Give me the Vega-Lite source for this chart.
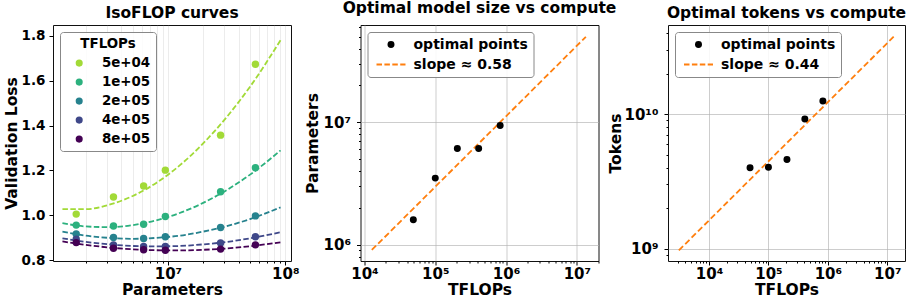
{
  "$schema": "https://vega.github.io/schema/vega-lite/v6.json",
  "padding": {"left": 3, "top": 0, "right": 5, "bottom": 0},
  "bounds": "flush",
  "spacing": 69.5,
  "config": {
    "font": "DejaVu Sans",
    "view": {"stroke": "#111", "strokeWidth": 1},
    "axis": {
      "labelFont": "DejaVu Sans", "labelFontWeight": "bold", "labelFontSize": 15, "labelColor": "black",
      "titleFont": "DejaVu Sans", "titleFontWeight": "bold", "titleFontSize": 15.5, "titleColor": "black",
      "domain": false, "tickColor": "black", "tickWidth": 1,
      "labelOverlap": false, "labelBound": false, "labelFlush": false
    },
    "axisX": {"minExtent": 18, "maxExtent": 18, "titlePadding": 3, "labelPadding": 1},
    "title": {"font": "DejaVu Sans", "fontWeight": "bold", "fontSize": 15.5, "color": "black", "offset": 0, "baseline": "alphabetic", "anchor": "middle", "frame": "group"},
    "legend": {"labelFont": "DejaVu Sans", "titleFont": "DejaVu Sans", "labelColor": "black", "titleColor": "black", "labelFontWeight": "bold", "titleFontWeight": "bold"}
  },
  "datasets": {
    "curves": [
      {"TFLOPs": "5e+04", "N": 1259000, "loss": 1.027},
      {"TFLOPs": "5e+04", "N": 1995000, "loss": 1.027},
      {"TFLOPs": "5e+04", "N": 3162000, "loss": 1.047},
      {"TFLOPs": "5e+04", "N": 5012000, "loss": 1.086},
      {"TFLOPs": "5e+04", "N": 7943000, "loss": 1.144},
      {"TFLOPs": "5e+04", "N": 12590000, "loss": 1.222},
      {"TFLOPs": "5e+04", "N": 19950000, "loss": 1.320},
      {"TFLOPs": "5e+04", "N": 31620000, "loss": 1.437},
      {"TFLOPs": "5e+04", "N": 50120000, "loss": 1.573},
      {"TFLOPs": "5e+04", "N": 91200000, "loss": 1.780},
      {"TFLOPs": "1e+05", "N": 1259000, "loss": 0.965},
      {"TFLOPs": "1e+05", "N": 1995000, "loss": 0.950},
      {"TFLOPs": "1e+05", "N": 3162000, "loss": 0.947},
      {"TFLOPs": "1e+05", "N": 5012000, "loss": 0.956},
      {"TFLOPs": "1e+05", "N": 7943000, "loss": 0.977},
      {"TFLOPs": "1e+05", "N": 12590000, "loss": 1.010},
      {"TFLOPs": "1e+05", "N": 19950000, "loss": 1.055},
      {"TFLOPs": "1e+05", "N": 31620000, "loss": 1.112},
      {"TFLOPs": "1e+05", "N": 50120000, "loss": 1.181},
      {"TFLOPs": "1e+05", "N": 91200000, "loss": 1.289},
      {"TFLOPs": "2e+05", "N": 1259000, "loss": 0.927},
      {"TFLOPs": "2e+05", "N": 1995000, "loss": 0.909},
      {"TFLOPs": "2e+05", "N": 3162000, "loss": 0.899},
      {"TFLOPs": "2e+05", "N": 5012000, "loss": 0.895},
      {"TFLOPs": "2e+05", "N": 7943000, "loss": 0.899},
      {"TFLOPs": "2e+05", "N": 12590000, "loss": 0.909},
      {"TFLOPs": "2e+05", "N": 19950000, "loss": 0.927},
      {"TFLOPs": "2e+05", "N": 31620000, "loss": 0.951},
      {"TFLOPs": "2e+05", "N": 50120000, "loss": 0.983},
      {"TFLOPs": "2e+05", "N": 91200000, "loss": 1.035},
      {"TFLOPs": "4e+05", "N": 1259000, "loss": 0.897},
      {"TFLOPs": "4e+05", "N": 1995000, "loss": 0.881},
      {"TFLOPs": "4e+05", "N": 3162000, "loss": 0.870},
      {"TFLOPs": "4e+05", "N": 5012000, "loss": 0.863},
      {"TFLOPs": "4e+05", "N": 7943000, "loss": 0.861},
      {"TFLOPs": "4e+05", "N": 12590000, "loss": 0.863},
      {"TFLOPs": "4e+05", "N": 19950000, "loss": 0.870},
      {"TFLOPs": "4e+05", "N": 31620000, "loss": 0.881},
      {"TFLOPs": "4e+05", "N": 50120000, "loss": 0.897},
      {"TFLOPs": "4e+05", "N": 91200000, "loss": 0.924},
      {"TFLOPs": "8e+05", "N": 1259000, "loss": 0.883},
      {"TFLOPs": "8e+05", "N": 1995000, "loss": 0.868},
      {"TFLOPs": "8e+05", "N": 3162000, "loss": 0.856},
      {"TFLOPs": "8e+05", "N": 5012000, "loss": 0.848},
      {"TFLOPs": "8e+05", "N": 7943000, "loss": 0.844},
      {"TFLOPs": "8e+05", "N": 12590000, "loss": 0.843},
      {"TFLOPs": "8e+05", "N": 19950000, "loss": 0.846},
      {"TFLOPs": "8e+05", "N": 31620000, "loss": 0.852},
      {"TFLOPs": "8e+05", "N": 50120000, "loss": 0.862},
      {"TFLOPs": "8e+05", "N": 91200000, "loss": 0.879}
    ],
    "pts": [
      {"TFLOPs": "5e+04", "N": 1650000, "loss": 1.005},
      {"TFLOPs": "5e+04", "N": 3430000, "loss": 1.081},
      {"TFLOPs": "5e+04", "N": 6200000, "loss": 1.130},
      {"TFLOPs": "5e+04", "N": 9500000, "loss": 1.201},
      {"TFLOPs": "5e+04", "N": 28100000, "loss": 1.357},
      {"TFLOPs": "5e+04", "N": 55700000, "loss": 1.673},
      {"TFLOPs": "1e+05", "N": 1650000, "loss": 0.956},
      {"TFLOPs": "1e+05", "N": 3430000, "loss": 0.952},
      {"TFLOPs": "1e+05", "N": 6200000, "loss": 0.960},
      {"TFLOPs": "1e+05", "N": 9500000, "loss": 0.994},
      {"TFLOPs": "1e+05", "N": 28100000, "loss": 1.105},
      {"TFLOPs": "1e+05", "N": 55700000, "loss": 1.212},
      {"TFLOPs": "2e+05", "N": 1650000, "loss": 0.916},
      {"TFLOPs": "2e+05", "N": 3430000, "loss": 0.901},
      {"TFLOPs": "2e+05", "N": 6200000, "loss": 0.896},
      {"TFLOPs": "2e+05", "N": 9500000, "loss": 0.904},
      {"TFLOPs": "2e+05", "N": 28100000, "loss": 0.945},
      {"TFLOPs": "2e+05", "N": 55700000, "loss": 0.997},
      {"TFLOPs": "4e+05", "N": 1650000, "loss": 0.893},
      {"TFLOPs": "4e+05", "N": 3430000, "loss": 0.868},
      {"TFLOPs": "4e+05", "N": 6200000, "loss": 0.861},
      {"TFLOPs": "4e+05", "N": 9500000, "loss": 0.861},
      {"TFLOPs": "4e+05", "N": 28100000, "loss": 0.876},
      {"TFLOPs": "4e+05", "N": 55700000, "loss": 0.904},
      {"TFLOPs": "8e+05", "N": 1650000, "loss": 0.878},
      {"TFLOPs": "8e+05", "N": 3430000, "loss": 0.853},
      {"TFLOPs": "8e+05", "N": 6200000, "loss": 0.846},
      {"TFLOPs": "8e+05", "N": 9500000, "loss": 0.844},
      {"TFLOPs": "8e+05", "N": 28100000, "loss": 0.849},
      {"TFLOPs": "8e+05", "N": 55700000, "loss": 0.868}
    ],
    "opt": [
      {"series": "optimal points", "C": 49000, "N": 1600000, "D": 4000000000},
      {"series": "optimal points", "C": 100000, "N": 3500000, "D": 4030000000},
      {"series": "optimal points", "C": 205000, "N": 6100000, "D": 4600000000},
      {"series": "optimal points", "C": 410000, "N": 6100000, "D": 9200000000},
      {"series": "optimal points", "C": 825000, "N": 9400000, "D": 12500000000}
    ],
    "fitN": [
      {"C": 12700, "N": 906000},
      {"C": 13400000, "N": 50000000}
    ],
    "fitD": [
      {"C": 3100, "D": 970000000},
      {"C": 13100000, "D": 38000000000}
    ]
  },
  "resolve": {"scale": {"color": "independent", "stroke": "independent", "shape": "independent", "x": "independent", "y": "independent"}, "legend": {"color": "independent", "shape": "independent"}},
  "hconcat": [
    {
      "width": 238, "height": 236,
      "title": {"text": "IsoFLOP curves"},
      "encoding": {
        "x": {"field": "N", "type": "quantitative",
          "scale": {"type": "log", "domain": [1046000, 112000000], "nice": false},
          "axis": {"title": "Parameters",
            "values": [2000000, 3000000, 4000000, 5000000, 6000000, 7000000, 8000000, 9000000, 10000000, 20000000, 30000000, 40000000, 50000000, 60000000, 70000000, 80000000, 90000000, 100000000],
            "labelExpr": "abs(log(datum.value)/LN10 - round(log(datum.value)/LN10)) < 0.001 ? '10' + (round(log(datum.value)/LN10) == 10 ? '¹⁰' : substring('⁰¹²³⁴⁵⁶⁷⁸⁹', round(log(datum.value)/LN10), round(log(datum.value)/LN10) + 1)) : ''",
            "tickSize": {"condition": {"test": "abs(log(datum.value)/LN10 - round(log(datum.value)/LN10)) < 0.001", "value": 4}, "value": 2},
            "grid": true, "gridColor": "#b0b0b0", "gridOpacity": 0.3, "gridWidth": 0.8}},
        "y": {"field": "loss", "type": "quantitative",
          "scale": {"domain": [0.796, 1.848], "nice": false, "zero": false},
          "axis": {"title": "Validation Loss", "values": [0.8, 1.0, 1.2, 1.4, 1.6, 1.8], "format": ".1f",
            "grid": false, "tickSize": 4, "labelPadding": 4, "labelFontSize": 13.5,
            "minExtent": 32, "maxExtent": 32, "titlePadding": 2}}
      },
      "layer": [
        {
          "data": {"name": "curves"},
          "mark": {"type": "line", "strokeDash": [5.5, 2.4], "strokeWidth": 1.8, "interpolate": "monotone"},
          "encoding": {
            "stroke": {"field": "TFLOPs", "type": "nominal",
              "scale": {"domain": ["8e+05", "4e+05", "2e+05", "1e+05", "5e+04"], "range": ["#440154", "#3f4889", "#26828e", "#2cb17e", "#a2da37"]},
              "legend": null}
          }
        },
        {
          "data": {"name": "pts"},
          "mark": {"type": "point", "filled": true, "size": 55, "opacity": 1},
          "encoding": {
            "color": {"field": "TFLOPs", "type": "nominal",
              "scale": {"domain": ["5e+04", "1e+05", "2e+05", "4e+05", "8e+05"], "range": ["#a2da37", "#2cb17e", "#26828e", "#3f4889", "#440154"]},
              "legend": {"title": "TFLOPs", "orient": "top-left", "offset": 7, "padding": 5,
                "fillColor": "rgba(255,255,255,0.85)", "strokeColor": "#888888", "cornerRadius": 3,
                "titleFontSize": 13.4, "titleAnchor": "middle", "titleAlign": "center", "titlePadding": 6,
                "labelFontSize": 13.4, "symbolSize": 50, "symbolType": "circle", "symbolOffset": 7.5,
                "labelOffset": 16, "rowPadding": 4, "symbolStrokeWidth": 0}}
          }
        }
      ]
    },
    {
      "width": 238, "height": 236,
      "title": {"text": "Optimal model size vs compute"},
      "encoding": {
        "x": {"field": "C", "type": "quantitative",
          "scale": {"type": "log", "domain": [8790, 20200000], "nice": false},
          "axis": {"title": "TFLOPs",
            "values": [10000, 20000, 30000, 40000, 50000, 60000, 70000, 80000, 90000, 100000, 200000, 300000, 400000, 500000, 600000, 700000, 800000, 900000, 1000000, 2000000, 3000000, 4000000, 5000000, 6000000, 7000000, 8000000, 9000000, 10000000, 20000000],
            "labelExpr": "abs(log(datum.value)/LN10 - round(log(datum.value)/LN10)) < 0.001 ? '10' + (round(log(datum.value)/LN10) == 10 ? '¹⁰' : substring('⁰¹²³⁴⁵⁶⁷⁸⁹', round(log(datum.value)/LN10), round(log(datum.value)/LN10) + 1)) : ''",
            "tickSize": {"condition": {"test": "abs(log(datum.value)/LN10 - round(log(datum.value)/LN10)) < 0.001", "value": 4}, "value": 2},
            "grid": true, "gridColor": "#b0b0b0", "gridWidth": 0.8,
            "gridOpacity": {"condition": {"test": "abs(log(datum.value)/LN10 - round(log(datum.value)/LN10)) < 0.001", "value": 0.8}, "value": 0}}},
        "y": {"field": "N", "type": "quantitative",
          "scale": {"type": "log", "domain": [736000, 62400000], "nice": false},
          "axis": {"title": "Parameters",
            "values": [800000, 900000, 1000000, 2000000, 3000000, 4000000, 5000000, 6000000, 7000000, 8000000, 9000000, 10000000, 20000000, 30000000, 40000000, 50000000, 60000000],
            "labelExpr": "abs(log(datum.value)/LN10 - round(log(datum.value)/LN10)) < 0.001 ? '10' + (round(log(datum.value)/LN10) == 10 ? '¹⁰' : substring('⁰¹²³⁴⁵⁶⁷⁸⁹', round(log(datum.value)/LN10), round(log(datum.value)/LN10) + 1)) : ''",
            "tickSize": {"condition": {"test": "abs(log(datum.value)/LN10 - round(log(datum.value)/LN10)) < 0.001", "value": 4}, "value": 2},
            "labelPadding": 6,
            "grid": true, "gridColor": "#b0b0b0", "gridWidth": 0.8,
            "gridOpacity": {"condition": {"test": "abs(log(datum.value)/LN10 - round(log(datum.value)/LN10)) < 0.001", "value": 0.8}, "value": 0},
            "minExtent": 36, "maxExtent": 36, "titlePadding": 4}}
      },
      "layer": [
        {
          "data": {"name": "fitN"},
          "mark": {"type": "line", "color": "#ff7f0e", "strokeDash": [6, 3], "strokeWidth": 1.8},
          "encoding": {}
        },
        {
          "data": {"name": "opt"},
          "mark": {"type": "point", "filled": false, "size": 841, "strokeWidth": 1.8, "opacity": 1},
          "encoding": {
            "color": {"field": "series", "type": "nominal",
              "scale": {"domain": ["optimal points", "slope ≈ 0.58"], "range": ["black", "#ff7f0e"]},
              "legend": {"title": null, "orient": "top-left", "offset": 7, "padding": 5,
                "fillColor": "rgba(255,255,255,0.85)", "strokeColor": "#888888", "cornerRadius": 3,
                "labelFontSize": 14, "symbolSize": 841, "clipHeight": 15, "symbolOffset": 3, "labelOffset": 7, "rowPadding": 5,
                "symbolStrokeWidth": 1.8, "symbolOpacity": 1}},
            "shape": {"field": "series", "type": "nominal",
              "scale": {"domain": ["optimal points", "slope ≈ 0.58"], "range": [
                "M0.062,0A0.062,0.062,0,1,1,-0.062,0A0.062,0.062,0,1,1,0.062,0M0.179,0A0.179,0.179,0,1,1,-0.179,0A0.179,0.179,0,1,1,0.179,0",
                "M-1,0H-0.621M-0.455,0H-0.076M0.09,0H0.469M0.635,0H1"]},
              "legend": {"title": null, "orient": "top-left", "offset": 7, "padding": 5,
                "fillColor": "rgba(255,255,255,0.85)", "strokeColor": "#888888", "cornerRadius": 3,
                "labelFontSize": 14, "symbolSize": 841, "clipHeight": 15, "symbolOffset": 3, "labelOffset": 7, "rowPadding": 5,
                "symbolStrokeWidth": 1.8, "symbolOpacity": 1}}
          }
        }
      ]
    },
    {
      "width": 237, "height": 236,
      "title": {"text": "Optimal tokens vs compute"},
      "encoding": {
        "x": {"field": "C", "type": "quantitative",
          "scale": {"type": "log", "domain": [2037, 19900000], "nice": false},
          "axis": {"title": "TFLOPs",
            "values": [3000, 4000, 5000, 6000, 7000, 8000, 9000, 10000, 20000, 30000, 40000, 50000, 60000, 70000, 80000, 90000, 100000, 200000, 300000, 400000, 500000, 600000, 700000, 800000, 900000, 1000000, 2000000, 3000000, 4000000, 5000000, 6000000, 7000000, 8000000, 9000000, 10000000],
            "labelExpr": "abs(log(datum.value)/LN10 - round(log(datum.value)/LN10)) < 0.001 ? '10' + (round(log(datum.value)/LN10) == 10 ? '¹⁰' : substring('⁰¹²³⁴⁵⁶⁷⁸⁹', round(log(datum.value)/LN10), round(log(datum.value)/LN10) + 1)) : ''",
            "tickSize": {"condition": {"test": "abs(log(datum.value)/LN10 - round(log(datum.value)/LN10)) < 0.001", "value": 4}, "value": 2},
            "grid": true, "gridColor": "#b0b0b0", "gridWidth": 0.8,
            "gridOpacity": {"condition": {"test": "abs(log(datum.value)/LN10 - round(log(datum.value)/LN10)) < 0.001", "value": 0.8}, "value": 0}}},
        "y": {"field": "D", "type": "quantitative",
          "scale": {"type": "log", "domain": [809000000, 46000000000], "nice": false},
          "axis": {"title": "Tokens",
            "values": [900000000, 1000000000, 2000000000, 3000000000, 4000000000, 5000000000, 6000000000, 7000000000, 8000000000, 9000000000, 10000000000, 20000000000, 30000000000, 40000000000],
            "labelExpr": "abs(log(datum.value)/LN10 - round(log(datum.value)/LN10)) < 0.001 ? '10' + (round(log(datum.value)/LN10) == 10 ? '¹⁰' : substring('⁰¹²³⁴⁵⁶⁷⁸⁹', round(log(datum.value)/LN10), round(log(datum.value)/LN10) + 1)) : ''",
            "tickSize": {"condition": {"test": "abs(log(datum.value)/LN10 - round(log(datum.value)/LN10)) < 0.001", "value": 4}, "value": 2},
            "labelPadding": 6,
            "grid": true, "gridColor": "#b0b0b0", "gridWidth": 0.8,
            "gridOpacity": {"condition": {"test": "abs(log(datum.value)/LN10 - round(log(datum.value)/LN10)) < 0.001", "value": 0.8}, "value": 0},
            "minExtent": 42, "maxExtent": 42, "titlePadding": 3}}
      },
      "layer": [
        {
          "data": {"name": "fitD"},
          "mark": {"type": "line", "color": "#ff7f0e", "strokeDash": [6, 3], "strokeWidth": 1.8},
          "encoding": {}
        },
        {
          "data": {"name": "opt"},
          "mark": {"type": "point", "filled": false, "size": 841, "strokeWidth": 1.8, "opacity": 1},
          "encoding": {
            "color": {"field": "series", "type": "nominal",
              "scale": {"domain": ["optimal points", "slope ≈ 0.44"], "range": ["black", "#ff7f0e"]},
              "legend": {"title": null, "orient": "top-left", "offset": 7, "padding": 5,
                "fillColor": "rgba(255,255,255,0.85)", "strokeColor": "#888888", "cornerRadius": 3,
                "labelFontSize": 14, "symbolSize": 841, "clipHeight": 15, "symbolOffset": 3, "labelOffset": 7, "rowPadding": 5,
                "symbolStrokeWidth": 1.8, "symbolOpacity": 1}},
            "shape": {"field": "series", "type": "nominal",
              "scale": {"domain": ["optimal points", "slope ≈ 0.44"], "range": [
                "M0.062,0A0.062,0.062,0,1,1,-0.062,0A0.062,0.062,0,1,1,0.062,0M0.179,0A0.179,0.179,0,1,1,-0.179,0A0.179,0.179,0,1,1,0.179,0",
                "M-1,0H-0.621M-0.455,0H-0.076M0.09,0H0.469M0.635,0H1"]},
              "legend": {"title": null, "orient": "top-left", "offset": 7, "padding": 5,
                "fillColor": "rgba(255,255,255,0.85)", "strokeColor": "#888888", "cornerRadius": 3,
                "labelFontSize": 14, "symbolSize": 841, "clipHeight": 15, "symbolOffset": 3, "labelOffset": 7, "rowPadding": 5,
                "symbolStrokeWidth": 1.8, "symbolOpacity": 1}}
          }
        }
      ]
    }
  ]
}
